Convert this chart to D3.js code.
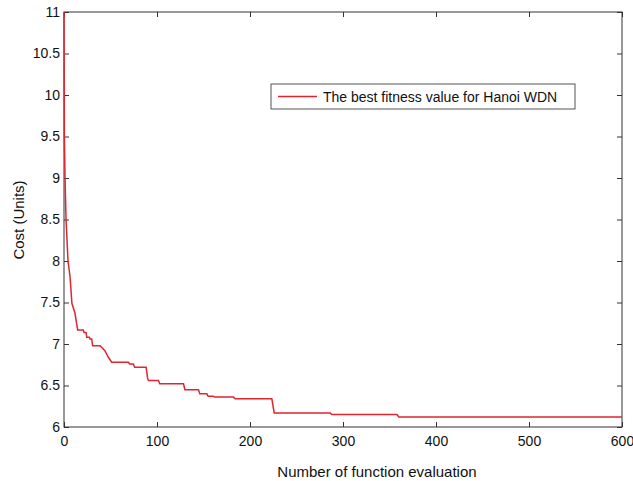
<!DOCTYPE html>
<html lang="en">
<head>
<meta charset="UTF-8">
<title>Best fitness value - Hanoi WDN</title>
<script src="https://d3js.org/d3.v7.min.js"></script>
<style>
    body { margin: 0; background: #fff; font-family: "Liberation Sans", Arial, sans-serif; }
    svg text { fill: #111; }
</style>
</head>
<body>
<div id="chart"></div>
<script>
    // values (corners of the stepped curve)
    const evals = [0, 0.4, 1.1, 2.2, 4.3, 6.5, 8.5, 11.8, 14.7, 20.8, 21.5, 23.7, 24.5, 27.3, 28, 29.8, 30.8, 38.8,
        44, 47.7, 51.3, 69.3, 70.5, 74.6, 76, 88.3, 90, 91, 101.5, 103, 128.5, 130, 144.6, 146, 153.6, 155,
        160.7, 162, 182.3, 184, 223.5, 226, 286.3, 288, 358, 360, 600];
    const costs = [11, 9.5, 9, 8.5, 8, 7.81, 7.49, 7.37, 7.17, 7.17, 7.14, 7.14, 7.08, 7.08, 7.06, 7.06, 6.98, 6.98,
        6.92, 6.84, 6.78, 6.78, 6.76, 6.76, 6.72, 6.72, 6.58, 6.56, 6.56, 6.52, 6.52, 6.45, 6.45, 6.40, 6.40, 6.37,
        6.37, 6.36, 6.36, 6.34, 6.34, 6.17, 6.17, 6.15, 6.15, 6.12, 6.12];
    const xTicks = [0, 100, 200, 300, 400, 500, 600];
    const yTicks = [6, 6.5, 7, 7.5, 8, 8.5, 9, 9.5, 10, 10.5, 11];
    const seriesName = "The best fitness value for Hanoi WDN";

    const width = 633, height = 481;
    const margin = { top: 12, right: 11, bottom: 54, left: 64 };
    const plotW = width - margin.left - margin.right;
    const plotH = height - margin.top - margin.bottom;

    const svg = d3.select("#chart").append("svg")
        .attr("width", width).attr("height", height);
    const g = svg.append("g").attr("transform", `translate(${margin.left},${margin.top})`);

    const x = d3.scaleLinear().domain([0, 600]).range([0, plotW]);
    const y = d3.scaleLinear().domain([6, 11]).range([plotH, 0]);

    // frame
    g.append("rect").attr("width", plotW).attr("height", plotH)
        .attr("fill", "none").attr("stroke", "#333").attr("stroke-width", 1);

    // inward ticks on all four sides (matlab style)
    const tickStyle = sel => {
        sel.select(".domain").remove();
        sel.selectAll(".tick line").attr("stroke", "#333");
        sel.selectAll(".tick text").style("font-size", "14px")
            .style("font-family", "'Liberation Sans', Arial, sans-serif").attr("fill", "#111");
    };
    g.append("g").attr("transform", `translate(0,${plotH})`)
        .call(d3.axisBottom(x).tickValues(xTicks).tickSizeInner(-5).tickSizeOuter(0).tickPadding(9))
        .call(tickStyle);
    g.append("g")
        .call(d3.axisTop(x).tickValues(xTicks).tickSizeInner(-5).tickSizeOuter(0).tickFormat(""))
        .call(tickStyle);
    g.append("g")
        .call(d3.axisLeft(y).tickValues(yTicks).tickSizeInner(-5).tickSizeOuter(0).tickPadding(4).tickFormat(d3.format("")))
        .call(tickStyle);
    g.append("g").attr("transform", `translate(${plotW},0)`)
        .call(d3.axisRight(y).tickValues(yTicks).tickSizeInner(-5).tickSizeOuter(0).tickFormat(""))
        .call(tickStyle);

    // curve
    const data = evals.map((e, i) => ({ e, c: costs[i] }));
    const line = d3.line().x(d => x(d.e)).y(d => y(d.c));
    g.append("path").datum(data)
        .attr("d", line)
        .attr("fill", "none")
        .attr("stroke", "#e0252f")
        .attr("stroke-width", 1.5);

    // axis titles
    svg.append("text")
        .attr("x", 377).attr("y", 477)
        .attr("text-anchor", "middle").style("font-size", "15px")
        .text("Number of function evaluation");
    svg.append("text")
        .attr("transform", `translate(24,220) rotate(-90)`)
        .attr("text-anchor", "middle").style("font-size", "15px")
        .text("Cost (Units)");

    // legend
    const leg = svg.append("g").attr("transform", "translate(271,84)");
    leg.append("rect").attr("width", 304).attr("height", 25)
        .attr("fill", "#fff").attr("stroke", "#555").attr("stroke-width", 1);
    leg.append("line").attr("x1", 7).attr("x2", 46).attr("y1", 12.5).attr("y2", 12.5)
        .attr("stroke", "#e0252f").attr("stroke-width", 1.5);
    leg.append("text").attr("x", 52).attr("y", 17.5)
        .style("font-size", "14px").text(seriesName);
</script>
</body>
</html>
